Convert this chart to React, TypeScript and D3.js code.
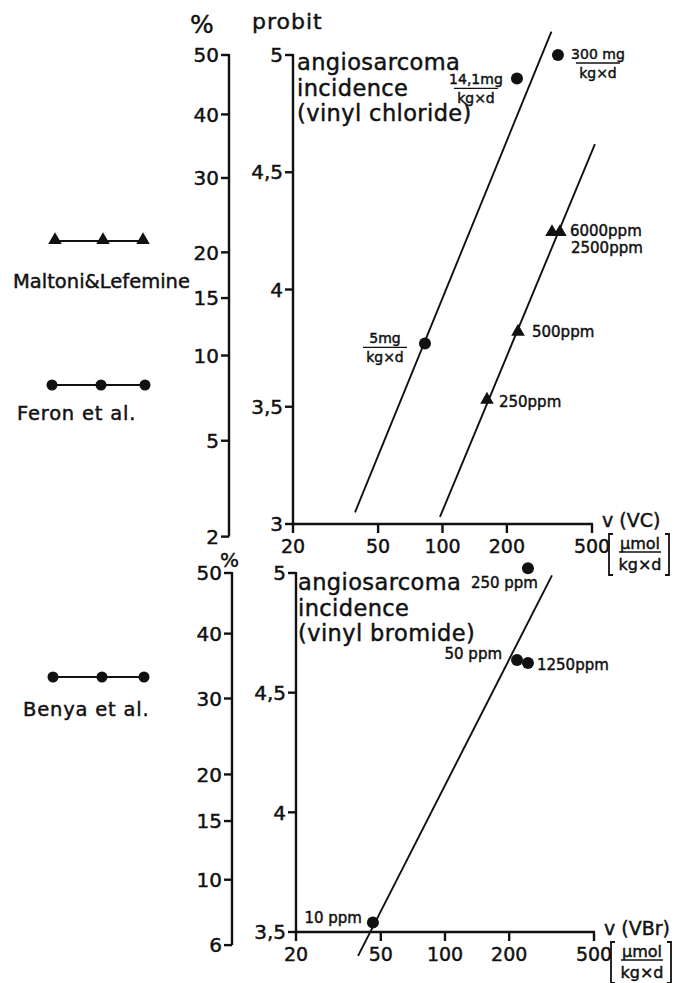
import React from 'react';
import * as d3 from 'd3';

// axis ticks
const pctTicksTop = [50, 40, 30, 20, 15, 10, 5, 2];
const pctTicksBot = [50, 40, 30, 20, 15, 10, 6];
const probitTicksTop = [5, 4.5, 4, 3.5, 3];
const probitTicksBot = [5, 4.5, 4, 3.5];
const doseTicks = [20, 50, 100, 200, 500];

// vinyl chloride, Feron et al. (circles)
const feronDose = [82.8, 222.9, 346.6];
const feronProbit = [3.77, 4.9, 5.0];
const feronNum = ['5mg', '14,1mg', '300 mg'];
const feronLineDose = [39, 323];
const feronLineProbit = [3.05, 5.1];

// vinyl chloride, Maltoni & Lefemine (triangles)
const maltoniDose = [161.4, 225.4, 325, 354];
const maltoniProbit = [3.53, 3.82, 4.245, 4.245];
const maltoniLabels = ['250ppm', '500ppm', '2500ppm', '6000ppm'];
const maltoniLineDose = [97.3, 516];
const maltoniLineProbit = [3.03, 4.62];

// vinyl bromide, Benya et al. (circles)
const benyaDose = [45.9, 217.7, 245, 245];
const benyaProbit = [3.54, 4.636, 4.624, 5.02];
const benyaLabels = ['10 ppm', '50 ppm', '1250ppm', '250 ppm'];
const benyaLineDose = [39.1, 317.6];
const benyaLineProbit = [3.4, 4.99];

const FONT = '"DejaVu Sans", sans-serif';
const INK = '#111';

// inverse normal CDF (Acklam) -> probit = 5 + qnorm(p)
function qnorm(p: number): number {
  const a = [-39.69683028665376, 220.9460984245205, -275.9285104469687, 138.357751867269, -30.66479806614716, 2.506628277459239];
  const b = [-54.47609879822406, 161.5858368580409, -155.6989798598866, 66.80131188771972, -13.28068155288572];
  const c = [-0.007784894002430293, -0.3223964580411365, -2.400758277161838, -2.549732539343734, 4.374664141464968, 2.938163982698783];
  const d = [0.007784695709041462, 0.3224671290700398, 2.445134137142996, 3.754408661907416];
  const lo = 0.02425;
  if (p < lo) {
    const q = Math.sqrt(-2 * Math.log(p));
    return (((((c[0] * q + c[1]) * q + c[2]) * q + c[3]) * q + c[4]) * q + c[5]) / ((((d[0] * q + d[1]) * q + d[2]) * q + d[3]) * q + 1);
  }
  if (p <= 1 - lo) {
    const q = p - 0.5, r = q * q;
    return (((((a[0] * r + a[1]) * r + a[2]) * r + a[3]) * r + a[4]) * r + a[5]) * q / (((((b[0] * r + b[1]) * r + b[2]) * r + b[3]) * r + b[4]) * r + 1);
  }
  const q = Math.sqrt(-2 * Math.log(1 - p));
  return -(((((c[0] * q + c[1]) * q + c[2]) * q + c[3]) * q + c[4]) * q + c[5]) / ((((d[0] * q + d[1]) * q + d[2]) * q + d[3]) * q + 1);
}

const de = d3.formatLocale({ decimal: ',', thousands: '.', grouping: [3], currency: ['', ''] });
const fmt = de.format('~g');

const xTop = d3.scaleLog().domain([20, 500]).range([293, 592]);
const yTop = d3.scaleLinear().domain([3, 5]).range([524, 55]);
const pctTop = (v: number) => yTop(5 + qnorm(v / 100));

const xBot = d3.scaleLog().domain([20, 500]).range([296, 594]);
const yBot = d3.scaleLinear().domain([3.5, 5]).range([932, 573]);
const pctBot = (v: number) => yBot(5 + qnorm(v / 100));

const tri = d3.symbol().type(d3.symbolTriangle).size(80)() as string;

function LeftAxis({ x, ticks, pos, y1 }: { x: number; ticks: number[]; pos: (v: number) => number; y1?: number }) {
  const top = pos(ticks[0]);
  const bottom = y1 ?? pos(ticks[ticks.length - 1]);
  return (
    <g>
      <line x1={x} x2={x} y1={top - 1} y2={bottom} stroke={INK} strokeWidth={2.4} />
      {ticks.map(t => (
        <g key={t} transform={`translate(${x},${pos(t)})`}>
          <line x1={-8} x2={0} stroke={INK} strokeWidth={2.4} />
          <text x={-10} dy="0.36em" textAnchor="end" fontSize={20} fontFamily={FONT} fill={INK}>{fmt(t)}</text>
        </g>
      ))}
    </g>
  );
}

function BottomAxis({ y, sx }: { y: number; sx: d3.ScaleLogarithmic<number, number> }) {
  const [r0, r1] = sx.range();
  return (
    <g>
      <line x1={r0} x2={r1 + 1} y1={y} y2={y} stroke={INK} strokeWidth={2.4} />
      {doseTicks.map(t => (
        <g key={t} transform={`translate(${sx(t)},${y})`}>
          <line y1={0} y2={9} stroke={INK} strokeWidth={2.4} />
          <text y={29} textAnchor="middle" fontSize={19} fontFamily={FONT} fill={INK}>{t}</text>
        </g>
      ))}
    </g>
  );
}

function Unit({ x, y, name }: { x: number; y: number; name: string }) {
  // y = axis line
  return (
    <g fontFamily={FONT} fill={INK}>
      <text x={x + 10} y={y + 3} fontSize={19}>{name}</text>
      <path d={`M${x + 21},${y + 10}h-4v41h4`} fill="none" stroke={INK} strokeWidth={1.8} />
      <text x={x + 48} y={y + 25} textAnchor="middle" fontSize={16}>µmol</text>
      <line x1={x + 27} x2={x + 69} y1={y + 28} y2={y + 28} stroke={INK} strokeWidth={1.6} />
      <text x={x + 48} y={y + 46} textAnchor="middle" fontSize={16}>kg×d</text>
      <path d={`M${x + 73},${y + 10}h4v41h-4`} fill="none" stroke={INK} strokeWidth={1.8} />
    </g>
  );
}

function Frac({ cx, y, num }: { cx: number; y: number; num: string }) {
  return (
    <g fontFamily={FONT} fontSize={14} fill={INK} textAnchor="middle">
      <text x={cx} y={y}>{num}</text>
      <line x1={cx - 22} x2={cx + 22} y1={y + 4} y2={y + 4} stroke={INK} strokeWidth={1.3} />
      <text x={cx} y={y + 19}>kg×d</text>
    </g>
  );
}

function Title({ x, y, last }: { x: number; y: number; last: string }) {
  return (
    <g fontFamily={FONT} fontSize={22.5} fill={INK} letterSpacing={0.4}>
      <text x={x} y={y}>angiosarcoma</text>
      <text x={x} y={y + 26}>incidence</text>
      <text x={x} y={y + 51}>{last}</text>
    </g>
  );
}

export default function App() {
  const line = d3.line<[number, number]>();
  const feronFit = line(feronLineDose.map((d, i) => [xTop(d), yTop(feronLineProbit[i])] as [number, number]));
  const maltoniFit = line(maltoniLineDose.map((d, i) => [xTop(d), yTop(maltoniLineProbit[i])] as [number, number]));
  const benyaFit = line(benyaLineDose.map((d, i) => [xBot(d), yBot(benyaLineProbit[i])] as [number, number]));

  // label placement relative to each point
  const feronFrac = [{ dx: -40, dy: 0 }, { dx: -41, dy: 6 }, { dx: 40, dy: 4 }];
  const maltoniOff = [{ dx: 12, dy: 7 }, { dx: 14, dy: 5 }, { dx: 19, dy: 21 }, { dx: 10, dy: 4 }];
  const benyaOff = [
    { dx: -11, dy: 1, anchor: 'end' },
    { dx: -15, dy: -1, anchor: 'end' },
    { dx: 9, dy: 7, anchor: 'start' },
    { dx: 10, dy: 20, anchor: 'end' },
  ];

  return (
    <div style={{ position: 'absolute', left: 0, top: 0 }}>
      <svg width={678} height={983} style={{ display: 'block', background: '#fff' }}>
        <style>{'text { stroke: #111; stroke-width: 0.45px; }'}</style>
        {/* ---------- top panel: vinyl chloride ---------- */}
        <text x={190} y={33} fontSize={25} fontFamily={FONT} fill={INK}>%</text>
        <text x={252} y={29} fontSize={22} fontFamily={FONT} fill={INK} letterSpacing={1}>probit</text>
        <LeftAxis x={229} ticks={pctTicksTop} pos={pctTop} />
        <LeftAxis x={293} ticks={probitTicksTop} pos={yTop} />
        <BottomAxis y={yTop(3)} sx={xTop} />
        <Unit x={xTop(500)} y={yTop(3)} name="v (VC)" />
        <Title x={297} y={70} last="(vinyl chloride)" />

        <path d={feronFit ?? ''} stroke={INK} strokeWidth={1.9} fill="none" />
        <path d={maltoniFit ?? ''} stroke={INK} strokeWidth={1.9} fill="none" />

        {feronDose.map((d, i) => (
          <g key={i}>
            <circle cx={xTop(d)} cy={yTop(feronProbit[i])} r={6} fill={INK} />
            <Frac cx={xTop(d) + feronFrac[i].dx} y={yTop(feronProbit[i]) + feronFrac[i].dy} num={feronNum[i]} />
          </g>
        ))}
        {maltoniDose.map((d, i) => (
          <g key={i}>
            <path d={tri} transform={`translate(${xTop(d)},${yTop(maltoniProbit[i])})`} fill={INK} />
            <text x={xTop(d) + maltoniOff[i].dx} y={yTop(maltoniProbit[i]) + maltoniOff[i].dy}
              fontSize={15} fontFamily={FONT} fill={INK}>{maltoniLabels[i]}</text>
          </g>
        ))}

        {/* legends */}
        <line x1={55} x2={143} y1={241} y2={241} stroke={INK} strokeWidth={1.8} />
        {[55, 103, 143].map(x => <path key={x} d={tri} transform={`translate(${x},${240})`} fill={INK} />)}
        <text x={13} y={288} fontSize={19.5} fontFamily={FONT} fill={INK}>Maltoni&amp;Lefemine</text>

        <line x1={52} x2={145} y1={385} y2={385} stroke={INK} strokeWidth={1.8} />
        {[52, 101, 145].map(x => <circle key={x} cx={x} cy={385} r={5.5} fill={INK} />)}
        <text x={17} y={420} fontSize={19.5} fontFamily={FONT} fill={INK} letterSpacing={0.8}>Feron et al.</text>

        {/* ---------- bottom panel: vinyl bromide ---------- */}
        <text x={220} y={567} fontSize={20} fontFamily={FONT} fill={INK}>%</text>
        <LeftAxis x={232} ticks={pctTicksBot} pos={pctBot} />
        <LeftAxis x={296} ticks={probitTicksBot} pos={yBot} />
        <BottomAxis y={yBot(3.5)} sx={xBot} />
        <Unit x={xBot(500)} y={yBot(3.5)} name="v (VBr)" />
        <Title x={298} y={590} last="(vinyl bromide)" />

        <path d={benyaFit ?? ''} stroke={INK} strokeWidth={1.9} fill="none" />
        {benyaDose.map((d, i) => (
          <g key={i}>
            <circle cx={xBot(d)} cy={yBot(benyaProbit[i])} r={6} fill={INK} />
            <text x={xBot(d) + benyaOff[i].dx} y={yBot(benyaProbit[i]) + benyaOff[i].dy}
              textAnchor={benyaOff[i].anchor} fontSize={15} fontFamily={FONT} fill={INK}>{benyaLabels[i]}</text>
          </g>
        ))}

        <line x1={53} x2={144} y1={677} y2={677} stroke={INK} strokeWidth={1.8} />
        {[53, 102, 144].map(x => <circle key={x} cx={x} cy={677} r={5.5} fill={INK} />)}
        <text x={23} y={716} fontSize={19.5} fontFamily={FONT} fill={INK} letterSpacing={0.8}>Benya et al.</text>
      </svg>
    </div>
  );
}
